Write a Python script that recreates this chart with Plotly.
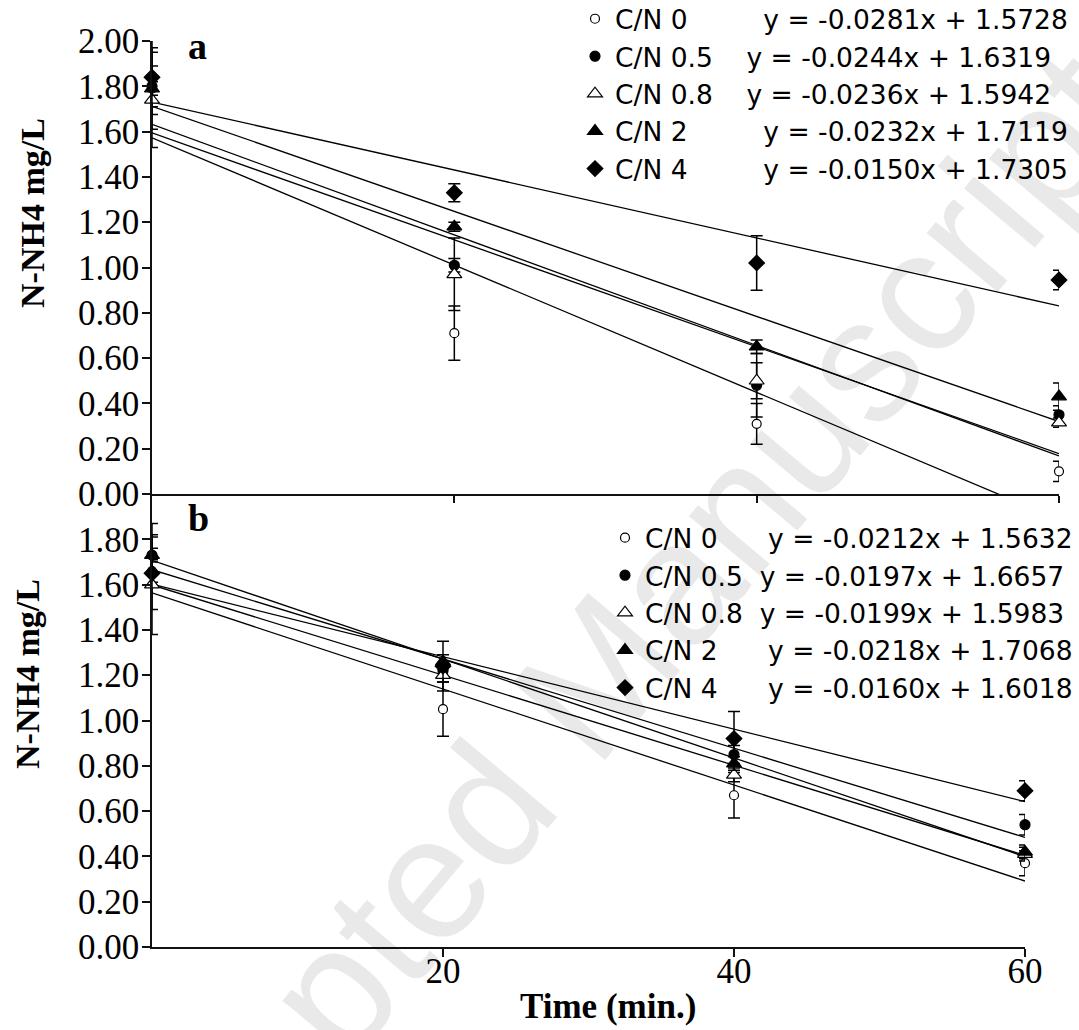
import plotly.graph_objects as go

# ---------------- data ----------------
times = [0, 20, 40, 60]
series_names = ["C/N 0", "C/N 0.5", "C/N 0.8", "C/N 2", "C/N 4"]

# panel a
a_cn0 = [1.79, 0.71, 0.31, 0.10]
a_cn05 = [1.80, 1.01, 0.48, 0.35]
a_cn08 = [1.74, 0.97, 0.50, 0.315]
a_cn2 = [1.79, 1.18, 0.65, 0.43]
a_cn4 = [1.84, 1.33, 1.02, 0.945]
a_err0 = [0.18, 0.12, 0.09, 0.045]
a_err05 = [0.09, 0.03, 0.14, 0.04]
a_err08 = [0.21, 0.16, 0.08, 0.02]
a_err2 = [0.03, 0.02, 0.03, 0.06]
a_err4 = [0.165, 0.04, 0.12, 0.043]
a_slopes = [-0.0281, -0.0244, -0.0236, -0.0232, -0.0150]
a_intercepts = [1.5728, 1.6319, 1.5942, 1.7119, 1.7305]

# panel b
b_cn0 = [1.66, 1.05, 0.67, 0.37]
b_cn05 = [1.73, 1.22, 0.85, 0.54]
b_cn08 = [1.60, 1.20, 0.76, 0.41]
b_cn2 = [1.73, 1.26, 0.81, 0.42]
b_cn4 = [1.65, 1.24, 0.92, 0.69]
b_err0 = [0.05, 0.12, 0.10, 0.055]
b_err05 = [0.14, 0.03, 0.04, 0.045]
b_err08 = [0.22, 0.03, 0.03, 0.03]
b_err2 = [0.03, 0.03, 0.03, 0.03]
b_err4 = [0.16, 0.11, 0.12, 0.044]
b_slopes = [-0.0212, -0.0197, -0.0199, -0.0218, -0.0160]
b_intercepts = [1.5632, 1.6657, 1.5983, 1.7068, 1.6018]

y_ticks_a = [0, 0.2, 0.4, 0.6, 0.8, 1.0, 1.2, 1.4, 1.6, 1.8, 2.0]
y_ticks_b = [0, 0.2, 0.4, 0.6, 0.8, 1.0, 1.2, 1.4, 1.6, 1.8]
x_ticks = [20, 40, 60]

a_values = [a_cn0, a_cn05, a_cn08, a_cn2, a_cn4]
a_errors = [a_err0, a_err05, a_err08, a_err2, a_err4]
b_values = [b_cn0, b_cn05, b_cn08, b_cn2, b_cn4]
b_errors = [b_err0, b_err05, b_err08, b_err2, b_err4]

# ---------------- styles ----------------
symbols = ["circle", "circle", "triangle-up", "triangle-up", "diamond"]
fills = ["white", "black", "white", "black", "black"]
sizes = [9, 10, 13, 13, 12]
NB = "\u00a0"
gaps_a = [NB * 9, NB * 4, NB * 4, NB * 9, NB * 9]
gaps_b = [NB * 6, NB * 2, NB * 2, NB * 6, NB * 6]

W, H = 1079, 1030
def px_x(p):
    return p / W
def px_y(p):
    return 1 - p / H

fig = go.Figure()

def eq_text(m, b):
    return "y = %.4fx + %.4f" % (m, b)

def add_panel(values, errors, slopes, intercepts, gaps, xa, ya, legend):
    for m, b in zip(slopes, intercepts):
        x0, x1 = times[0], times[-1]
        fig.add_trace(go.Scatter(
            x=[x0, x1], y=[b + m * x0, b + m * x1], mode="lines",
            line=dict(color="black", width=1.3), xaxis=xa, yaxis=ya,
            showlegend=False, hoverinfo="skip"))
    for i, (vals, errs) in enumerate(zip(values, errors)):
        name = series_names[i] + gaps[i] + eq_text(slopes[i], intercepts[i])
        fig.add_trace(go.Scatter(
            x=times, y=vals, mode="markers", name=name,
            marker=dict(symbol=symbols[i], size=sizes[i], color=fills[i],
                        line=dict(color="black", width=1.2)),
            error_y=dict(type="data", array=errs, visible=True,
                         color="black", thickness=1.5, width=6),
            cliponaxis=False, xaxis=xa, yaxis=ya, legend=legend))

add_panel(a_values, a_errors, a_slopes, a_intercepts, gaps_a, "x", "y", "legend")
add_panel(b_values, b_errors, b_slopes, b_intercepts, gaps_b, "x2", "y2", "legend2")

serif = "Liberation Serif"
axis_common = dict(showline=True, linecolor="#111", linewidth=1.5,
                   showgrid=False, zeroline=False, ticks="outside",
                   tickcolor="#111", tickwidth=1.5, automargin=False,
                   tickfont=dict(family=serif, size=35, color="black"))

top_y0, top_y1 = 494, 41
bot_y0 = 947
leg_font = dict(family="DejaVu Sans", size=26.5, color="black")

fig.update_layout(
    width=W, height=H,
    margin=dict(l=0, r=0, t=0, b=0, autoexpand=False),
    paper_bgcolor="white", plot_bgcolor="rgba(0,0,0,0)",
    showlegend=True,
    xaxis=dict(domain=[px_x(152), px_x(1059)], range=[0, 60], anchor="y",
               tickvals=x_ticks, showticklabels=False, ticklen=7, **axis_common),
    yaxis=dict(domain=[px_y(top_y0), px_y(top_y1)], range=[0, 2.0], anchor="x",
               tickvals=y_ticks_a, tickformat=".2f", ticklen=8,
               ticklabelstandoff=-4, **axis_common),
    xaxis2=dict(domain=[px_x(152), px_x(1025)], range=[0, 60], anchor="y2",
                tickvals=x_ticks, ticklen=8, ticklabelstandoff=-16, **axis_common),
    yaxis2=dict(domain=[px_y(bot_y0), px_y(top_y0)], range=[0, 2.0], anchor="x2",
                tickvals=y_ticks_b, tickformat=".2f", ticklen=8,
                ticklabelstandoff=-4, **axis_common),
    legend=dict(x=px_x(575), y=px_y(-5), xanchor="left", yanchor="top",
                bgcolor="rgba(0,0,0,0)", borderwidth=0, font=leg_font),
    legend2=dict(x=px_x(605), y=px_y(514), xanchor="left", yanchor="top",
                 bgcolor="rgba(0,0,0,0)", borderwidth=0, font=leg_font),
)

def note(text, x, y, size, angle=0, color="black", family=serif):
    return dict(text=text, x=px_x(x), y=px_y(y), xref="paper", yref="paper",
                xanchor="center", yanchor="middle", showarrow=False,
                textangle=angle, font=dict(family=family, size=size, color=color))

ann = [
    note("Accepted Manuscript", 574, 702, 175, angle=-50,
         color="rgba(0,0,0,0.085)", family="Liberation Sans"),
    note("<b>N-NH4 mg/L</b>", 32, 213, 34, angle=-90),
    note("<b>N-NH4 mg/L</b>", 27, 674, 34, angle=-90),
    note("<b>Time (min.)</b>", 608, 1006, 35),
    note("<b>a</b>", 197, 46, 38),
    note("<b>b</b>", 198, 518, 38),
]
fig.update_layout(annotations=ann)

fig.write_html("out.html")
